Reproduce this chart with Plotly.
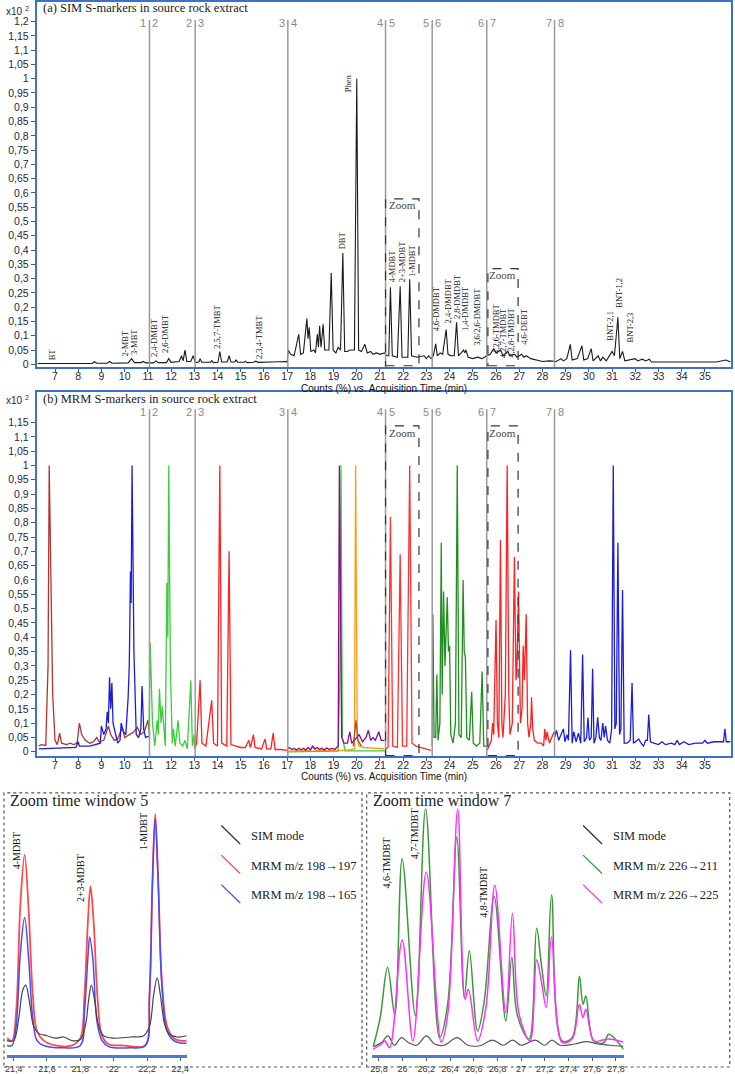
import plotly.graph_objects as go

# ================= DATA =================
time_ticks = list(range(7, 36))
y_ticks_a = [i * 0.05 for i in range(0, 25)]
y_ticks_b = [i * 0.05 for i in range(0, 24)]
boundaries = [11.07, 13.04, 17.03, 21.24, 23.25, 25.6, 28.52]
boundary_left = ['1', '2', '3', '4', '5', '6', '7']
boundary_right = ['2', '3', '4', '5', '6', '7', '8']
zoom_windows = [(21.24, 22.68), (25.65, 26.95)]
zoom_heights_a = [0.579, 0.335]
zoom_height_b = 1.138

# (a) SIM chromatogram (time min, relative counts x10^2)
sim_trace = [
    (6.25, 0.003), (8.6, 0.003), (8.7, 0.009), (8.8, 0.004), (9.25, 0.004), (9.35, 0.01), (9.45, 0.004),
    (10.15, 0.005), (10.3, 0.02), (10.42, 0.006), (10.7, 0.006), (10.8, 0.01), (10.9, 0.005), (11.25, 0.005),
    (11.35, 0.012), (11.45, 0.006), (11.8, 0.006), (11.9, 0.02), (12.0, 0.007), (12.35, 0.01), (12.45, 0.03),
    (12.52, 0.012), (12.6, 0.05), (12.68, 0.01), (12.85, 0.01), (12.95, 0.03), (13.05, 0.006), (13.2, 0.008),
    (13.25, 0.02), (13.32, 0.007), (13.7, 0.007), (13.75, 0.013), (13.82, 0.006), (14.02, 0.007), (14.1, 0.045),
    (14.18, 0.008), (14.42, 0.008), (14.5, 0.03), (14.58, 0.008), (14.75, 0.008), (14.8, 0.016), (14.87, 0.007),
    (15.15, 0.007), (15.2, 0.011), (15.27, 0.006), (15.55, 0.007), (15.65, 0.011), (15.75, 0.007), (16.3, 0.008),
    (16.5, 0.009), (16.7, 0.008), (16.95, 0.01), (17.0, 0.008),
    (17.05, 0.05), (17.15, 0.035), (17.3, 0.03), (17.5, 0.105), (17.58, 0.035), (17.7, 0.04), (17.85, 0.16),
    (17.9, 0.09), (17.95, 0.13), (18.02, 0.045), (18.15, 0.05), (18.22, 0.04), (18.3, 0.105), (18.35, 0.06),
    (18.4, 0.135), (18.46, 0.06), (18.55, 0.14), (18.62, 0.05), (18.8, 0.05), (18.9, 0.32), (18.98, 0.05),
    (19.1, 0.04), (19.2, 0.06), (19.3, 0.05), (19.4, 0.39), (19.48, 0.045), (19.6, 0.045), (19.7, 0.05),
    (19.9, 0.05), (20.0, 1.0), (20.08, 0.05), (20.2, 0.045), (20.35, 0.07), (20.45, 0.04), (20.6, 0.045),
    (20.7, 0.035), (20.85, 0.04), (21.0, 0.035), (21.2, 0.04), (21.3, 0.03),
    (21.38, 0.03), (21.45, 0.27), (21.53, 0.03), (21.75, 0.025), (21.87, 0.273), (21.95, 0.025), (22.2, 0.025),
    (22.28, 0.298), (22.36, 0.03), (22.6, 0.025), (22.9, 0.03), (23.0, 0.02), (23.1, 0.03), (23.2, 0.02),
    (23.3, 0.03), (23.4, 0.072), (23.47, 0.03), (23.6, 0.04), (23.7, 0.035), (23.85, 0.122), (23.93, 0.035),
    (24.05, 0.03), (24.2, 0.03), (24.3, 0.147), (24.38, 0.03), (24.5, 0.04), (24.6, 0.05), (24.65, 0.04),
    (24.7, 0.05), (24.8, 0.025), (25.0, 0.02), (25.2, 0.025), (25.4, 0.02), (25.6, 0.03), (25.75, 0.035),
    (25.9, 0.055), (26.0, 0.04), (26.1, 0.045), (26.2, 0.05), (26.3, 0.03), (26.5, 0.045), (26.6, 0.03),
    (26.8, 0.035), (26.9, 0.025), (27.1, 0.035), (27.2, 0.025), (27.3, 0.03), (27.5, 0.02), (27.7, 0.015),
    (28.0, 0.01), (28.3, 0.012), (28.6, 0.01), (28.8, 0.02), (28.9, 0.012), (29.05, 0.02), (29.2, 0.07),
    (29.28, 0.015), (29.5, 0.02), (29.7, 0.065), (29.78, 0.015), (29.95, 0.02), (30.1, 0.055), (30.18, 0.012),
    (30.4, 0.03), (30.5, 0.012), (30.6, 0.025), (30.75, 0.012), (31.0, 0.045), (31.1, 0.03), (31.25, 0.165),
    (31.33, 0.02), (31.45, 0.045), (31.55, 0.012), (31.8, 0.015), (32.0, 0.02), (32.1, 0.012), (32.3, 0.018),
    (32.45, 0.012), (32.6, 0.018), (32.7, 0.008), (33.5, 0.007), (34.5, 0.008), (35.5, 0.008), (35.9, 0.015),
    (36.1, 0.008),
]

sim_label_names = ['BT', '2-MBT', '3-MBT', '2,4-DMBT', '2,6-DMBT', '2,5,7-TMBT', '2,3,4-TMBT', 'DBT', 'Phen',
                   '4-MDBT', '2+3-MDBT', '1-MDBT', '4,6-DMDBT', '2,4-DMDBT', '2,8-DMDBT', '1,4-DMDBT',
                   '3,6/2,6-DMDBT', '4,2,6-TMDBT', '4,2,7-TMDBT', '4,2,8-TMDBT', '4,6-DEBT',
                   'BNT-2,1', 'BNT-1,2', 'BNT-2,3']
sim_label_times = [6.86, 10.0, 10.4, 11.26, 11.71, 14.0, 15.78, 19.36, 19.6,
                   21.5, 21.93, 22.38, 23.43, 23.92, 24.35, 24.67,
                   25.2, 26.0, 26.28, 26.64, 27.2,
                   30.92, 31.32, 31.78]

# (b) MRM chromatograms per time segment
mrm_seg1_a = [(6.3, 0.02), (6.4, 0.025), (6.6, 0.022), (6.7, 0.3), (6.75, 1.0), (6.82, 0.6), (6.9, 0.2), (7.0, 0.04),
              (7.1, 0.025), (7.2, 0.065), (7.28, 0.03), (7.5, 0.025), (7.65, 0.03), (7.8, 0.025), (7.95, 0.03),
              (8.05, 0.1), (8.15, 0.06), (8.3, 0.04), (8.5, 0.03), (8.65, 0.035), (8.8, 0.05), (8.9, 0.035),
              (9.1, 0.04), (9.3, 0.09), (9.4, 0.06), (9.55, 0.04), (9.7, 0.045), (9.9, 0.085), (10.0, 0.05),
              (10.2, 0.06), (10.4, 0.07), (10.55, 0.085), (10.7, 0.06), (10.85, 0.07), (11.0, 0.11), (11.08, 0.06)]
mrm_seg1_b = [(6.3, 0.01), (7.5, 0.012), (7.9, 0.015), (8.0, 0.035), (8.05, 0.02), (8.5, 0.02), (8.8, 0.025),
              (8.95, 0.03), (9.0, 0.09), (9.1, 0.06), (9.2, 0.08), (9.25, 0.14), (9.3, 0.1), (9.35, 0.26), (9.4, 0.15),
              (9.45, 0.24), (9.5, 0.1), (9.6, 0.07), (9.7, 0.03), (9.8, 0.04), (9.85, 0.1), (9.95, 0.07), (10.05, 0.06),
              (10.15, 0.19), (10.2, 0.3), (10.25, 0.63), (10.28, 0.52), (10.32, 1.0), (10.4, 0.35), (10.5, 0.06),
              (10.6, 0.05), (10.7, 0.08), (10.75, 0.23), (10.82, 0.08), (10.9, 0.05), (11.05, 0.055)]
mrm_seg2 = [(11.05, 0.06), (11.1, 0.38), (11.2, 0.1), (11.3, 0.02), (11.4, 0.11), (11.45, 0.06), (11.5, 0.22),
            (11.57, 0.1), (11.62, 0.16), (11.7, 0.08), (11.75, 0.02), (11.82, 0.59), (11.86, 0.4), (11.9, 1.0),
            (11.97, 0.3), (12.05, 0.03), (12.1, 0.08), (12.18, 0.02), (12.3, 0.11), (12.38, 0.03), (12.5, 0.02),
            (12.6, 0.04), (12.7, 0.01), (12.85, 0.25), (12.92, 0.02), (13.0, 0.06), (13.02, 0.01)]
mrm_seg3 = [(13.02, 0.01), (13.1, 0.03), (13.25, 0.25), (13.33, 0.03), (13.5, 0.02), (13.75, 0.18), (13.83, 0.03),
            (14.0, 0.02), (14.1, 1.0), (14.18, 0.03), (14.4, 0.02), (14.5, 0.7), (14.58, 0.025), (14.8, 0.02),
            (15.0, 0.015), (15.2, 0.015), (15.35, 0.04), (15.42, 0.015), (15.55, 0.06), (15.62, 0.015), (15.9, 0.01),
            (16.05, 0.045), (16.12, 0.01), (16.3, 0.01), (16.4, 0.065), (16.48, 0.008), (16.7, 0.008), (17.0, 0.005)]
mrm_seg4_a = [(17.0, 0.01), (17.1, 0.015), (17.2, 0.008), (17.3, 0.012), (17.4, 0.006), (17.5, 0.012), (17.6, 0.007),
              (17.7, 0.012), (17.8, 0.006), (17.9, 0.015), (18.0, 0.007), (18.1, 0.02), (18.2, 0.01), (18.3, 0.015),
              (18.4, 0.008), (18.5, 0.012), (18.6, 0.006), (18.7, 0.014), (18.8, 0.008), (18.95, 0.012),
              (19.05, 0.008), (19.2, 0.02), (19.25, 1.0), (19.3, 0.5), (19.35, 0.05), (19.45, 0.03), (19.6, 0.03),
              (19.7, 0.07), (19.78, 0.03), (19.9, 0.04), (20.0, 0.05), (20.1, 0.06), (20.25, 0.035), (20.4, 0.05),
              (20.5, 0.075), (20.6, 0.04), (20.7, 0.05), (20.8, 0.04), (20.95, 0.07), (21.05, 0.04), (21.2, 0.04)]
mrm_seg4_b = [(17.0, 0.0), (19.2, 0.002), (19.28, 0.3), (19.32, 1.0), (19.38, 0.05), (19.5, 0.003), (21.2, 0.003)]
mrm_seg4_c = [(17.0, 0.002), (18.0, 0.005), (18.1, 0.02), (18.2, 0.005), (19.5, 0.005), (19.9, 0.01), (19.95, 1.0),
              (20.02, 0.05), (20.1, 0.02), (20.3, 0.015), (21.2, 0.01)]
mrm_seg4_d = [(19.85, 0.02), (19.97, 0.11), (20.05, 0.04), (20.2, 0.02)]
mrm_seg5 = [(21.24, 0.01), (21.35, 0.015), (21.45, 0.82), (21.55, 0.02), (21.75, 0.015), (21.87, 0.69),
            (21.97, 0.02), (22.15, 0.02), (22.28, 1.0), (22.38, 0.03), (22.55, 0.02), (22.8, 0.015), (23.0, 0.01),
            (23.2, 0.005)]
mrm_seg6 = [(23.25, 0.02), (23.28, 0.48), (23.33, 0.05), (23.4, 0.05), (23.45, 0.27), (23.5, 0.04), (23.58, 0.1),
            (23.64, 0.73), (23.68, 0.2), (23.74, 0.56), (23.8, 0.3), (23.85, 0.4), (23.9, 0.54), (23.95, 0.35),
            (24.0, 0.37), (24.05, 0.06), (24.15, 0.03), (24.25, 0.1), (24.33, 1.0), (24.4, 0.06), (24.5, 0.05),
            (24.58, 0.6), (24.63, 0.35), (24.68, 0.33), (24.74, 0.05), (24.85, 0.04), (24.95, 0.21), (25.02, 0.03),
            (25.15, 0.02), (25.3, 0.03), (25.4, 0.28), (25.47, 0.02), (25.6, 0.02)]
mrm_seg7 = [(25.62, 0.005), (25.7, 0.02), (25.8, 0.04), (25.85, 0.1), (25.9, 0.06), (26.0, 0.46), (26.06, 0.1),
            (26.12, 0.05), (26.19, 0.74), (26.25, 0.1), (26.3, 0.05), (26.4, 0.2), (26.48, 1.0), (26.55, 0.2),
            (26.6, 0.06), (26.7, 0.1), (26.79, 0.68), (26.86, 0.25), (26.9, 0.3), (26.97, 0.56), (27.05, 0.1),
            (27.12, 0.15), (27.17, 0.37), (27.22, 0.25), (27.3, 0.48), (27.36, 0.1), (27.42, 0.05), (27.5, 0.1),
            (27.53, 0.19), (27.58, 0.08), (27.65, 0.04), (27.8, 0.03), (27.95, 0.03), (28.05, 0.02), (28.1, 0.08),
            (28.15, 0.04), (28.2, 0.07), (28.3, 0.03), (28.45, 0.06), (28.5, 0.07)]
mrm_seg8 = [(28.52, 0.05), (28.6, 0.075), (28.7, 0.04), (28.8, 0.06), (28.9, 0.08), (28.97, 0.035), (29.05, 0.06),
            (29.12, 0.04), (29.21, 0.355), (29.28, 0.03), (29.35, 0.07), (29.45, 0.035), (29.55, 0.065),
            (29.65, 0.03), (29.73, 0.34), (29.8, 0.035), (29.9, 0.05), (29.96, 0.12), (30.02, 0.04), (30.1, 0.05),
            (30.16, 0.29), (30.22, 0.03), (30.3, 0.05), (30.38, 0.12), (30.45, 0.05), (30.52, 0.04), (30.6, 0.1),
            (30.66, 0.05), (30.72, 0.09), (30.8, 0.04), (30.9, 0.03), (30.98, 0.08), (31.05, 1.0), (31.12, 0.08),
            (31.18, 0.1), (31.25, 0.73), (31.32, 0.06), (31.38, 0.08), (31.45, 0.565), (31.52, 0.03), (31.65, 0.03),
            (31.78, 0.04), (31.86, 0.24), (31.92, 0.03), (32.05, 0.04), (32.15, 0.045), (32.25, 0.03), (32.35, 0.02),
            (32.45, 0.04), (32.52, 0.04), (32.58, 0.13), (32.65, 0.035), (32.8, 0.03), (33.0, 0.025), (33.15, 0.035),
            (33.3, 0.025), (33.55, 0.03), (33.7, 0.025), (33.8, 0.04), (33.9, 0.025), (34.1, 0.035), (34.3, 0.025),
            (34.6, 0.03), (34.9, 0.03), (35.0, 0.04), (35.1, 0.03), (35.4, 0.035), (35.6, 0.035), (35.8, 0.035),
            (35.86, 0.08), (35.92, 0.035), (36.1, 0.035)]

# Zoom time window 5 (relative intensity)
zoom5_ticks = [21.4, 21.6, 21.8, 22.0, 22.2, 22.4]
zoom5_ticktext = ['21,4', '21,6', '21,8', '22', '22,2', '22,4']
zoom5_sim = [(21.36, 6), (21.4, 6), (21.43, 15), (21.455, 27), (21.473, 29), (21.495, 22), (21.52, 12), (21.55, 9),
             (21.6, 8), (21.65, 7), (21.7, 7.5), (21.75, 6), (21.8, 6.5), (21.83, 12), (21.85, 23), (21.866, 29),
             (21.885, 23), (21.91, 12), (21.94, 8), (22.0, 7), (22.1, 7.5), (22.18, 8), (22.215, 12), (22.24, 25),
             (22.261, 32), (22.28, 25), (22.305, 13), (22.33, 9), (22.38, 7.5), (22.438, 8)]
zoom5_mrm197 = [(21.36, 7), (21.39, 6), (21.415, 18), (21.44, 62), (21.466, 83), (21.49, 60), (21.515, 25),
                (21.54, 10), (21.58, 6), (21.65, 4), (21.75, 4), (21.8, 7), (21.825, 25), (21.845, 55), (21.861, 70),
                (21.88, 55), (21.905, 22), (21.93, 8), (21.97, 4.5), (22.05, 4), (22.12, 3.5), (22.19, 4),
                (22.215, 25), (22.232, 70), (22.249, 100), (22.266, 75), (22.29, 30), (22.32, 12), (22.36, 7),
                (22.4, 6), (22.438, 6)]
zoom5_mrm165 = [(21.36, 4), (21.39, 4), (21.415, 12), (21.44, 42), (21.466, 57), (21.49, 40), (21.515, 15),
                (21.54, 6), (21.58, 4), (21.7, 3), (21.8, 4), (21.825, 18), (21.845, 40), (21.856, 49), (21.875, 40),
                (21.9, 14), (21.93, 6), (21.97, 3.5), (22.1, 3), (22.19, 4), (22.215, 25), (22.232, 70), (22.249, 98),
                (22.266, 73), (22.29, 28), (22.32, 10), (22.36, 6), (22.4, 5), (22.438, 5)]
zoom5_labels = ['4-MDBT', '2+3-MDBT', '1-MDBT']
zoom5_legend = ['SIM mode', 'MRM m/z 198→197', 'MRM m/z 198→165']

# Zoom time window 7 (relative intensity)
zoom7_ticks = [25.8, 26.0, 26.2, 26.4, 26.6, 26.8, 27.0, 27.2, 27.4, 27.6, 27.8]
zoom7_ticktext = ['25,8', '26', '26,2', '26,4', '26,6', '26,8', '27', '27,2', '27,4', '27,6', '27,8']
zoom7_sim = [(25.752, 3.4), (25.82, 5), (25.876, 7.8), (25.93, 4), (25.99, 7.1), (26.05, 5), (26.12, 4),
             (26.2, 7.8), (26.27, 4.5), (26.35, 4), (26.46, 7.1), (26.55, 4), (26.65, 3.8), (26.76, 6.1),
             (26.85, 4), (26.93, 6.1), (27.0, 4), (27.12, 6.1), (27.2, 4), (27.26, 6.1), (27.33, 4), (27.45, 4.5),
             (27.55, 5.5), (27.65, 4.5), (27.75, 4), (27.865, 3.5)]
zoom7_mrm211 = [(25.752, 3.4), (25.81, 15), (25.873, 35.7), (25.934, 16.3), (25.996, 79.8), (26.108, 15.9),
                (26.194, 100), (26.312, 7.1), (26.38, 20.6), (26.457, 88.5), (26.521, 23.5), (26.563, 42.4),
                (26.633, 9.8), (26.689, 22), (26.773, 64.3), (26.871, 13.9), (26.922, 39.7), (26.969, 16),
                (27.067, 6.5), (27.131, 51.5), (27.173, 36), (27.212, 24), (27.257, 65), (27.346, 5.8), (27.43, 7),
                (27.492, 32), (27.522, 20.6), (27.547, 24), (27.612, 5.8), (27.7, 5), (27.738, 8.5), (27.865, 2.4)]
zoom7_mrm225 = [(25.752, 2.4), (25.82, 4.5), (25.85, 5.8), (25.89, 3), (25.996, 46.8), (26.087, 5.8), (26.2, 74.4),
                (26.326, 5.2), (26.38, 16.3), (26.465, 100), (26.527, 22.7), (26.555, 26.7), (26.633, 5.8),
                (26.703, 19.3), (26.778, 69), (26.871, 17.3), (26.927, 57.6), (26.983, 16.6), (27.075, 5.8),
                (27.131, 38.7), (27.173, 29.3), (27.212, 19.3), (27.257, 48), (27.346, 5.2), (27.43, 6.5),
                (27.492, 20.6), (27.522, 15.2), (27.547, 18.6), (27.612, 5.8), (27.68, 6), (27.738, 6.5),
                (27.865, 5.2)]
zoom7_labels = ['4,6-TMDBT', '4,7-TMDBT', '4,8-TMDBT']
zoom7_legend = ['SIM mode', 'MRM m/z 226→211', 'MRM m/z 226→225']

# ================= FIGURE =================
W, H = 735, 1074
def fx(p):
    return p / W
def fy(p):
    return 1 - p / H

SERIF = 'Liberation Serif'
SANS = 'Liberation Sans'
BLUE_FRAME = '#3d6fcf'
GRAY = '#9a9a9a'

fig = go.Figure()

def add(points, xa, ya, color, width=1.1, shape='linear'):
    xs, ys = zip(*points)
    fig.add_trace(go.Scatter(x=list(xs), y=list(ys), mode='lines', xaxis=xa, yaxis=ya,
                             line=dict(color=color, width=width, shape=shape),
                             hoverinfo='skip', showlegend=False))

# panel (a)
add(sim_trace, 'x', 'y', '#1a1a1a', 1.1)
# panel (b)
add(mrm_seg1_a, 'x2', 'y2', '#b03434', 1.3)
add(mrm_seg1_b, 'x2', 'y2', '#1c1cd8', 1.3)
add(mrm_seg2, 'x2', 'y2', '#3ccc3c', 1.3)
add(mrm_seg3, 'x2', 'y2', '#ff2020', 1.3)
add(mrm_seg4_b, 'x2', 'y2', '#3ccc3c', 1.3)
add(mrm_seg4_c, 'x2', 'y2', '#ff9a10', 1.3)
add(mrm_seg4_a, 'x2', 'y2', '#85108a', 1.3)
add(mrm_seg4_d, 'x2', 'y2', '#a0522d', 1.3)
add(mrm_seg5, 'x2', 'y2', '#ff3030', 1.3)
add(mrm_seg6, 'x2', 'y2', '#1f8f1f', 1.3)
add(mrm_seg7, 'x2', 'y2', '#ff2020', 1.3)
add(mrm_seg8, 'x2', 'y2', '#1c1cd8', 1.3)
# zoom window 5
add(zoom5_mrm197, 'x3', 'y3', '#ff4a4a', 1.8, 'spline')
add(zoom5_mrm165, 'x3', 'y3', '#4a4aff', 1.5, 'spline')
add(zoom5_sim, 'x3', 'y3', '#444444', 1.2, 'spline')
# zoom window 7
add(zoom7_sim, 'x4', 'y4', '#555555', 1.2, 'spline')
add(zoom7_mrm211, 'x4', 'y4', '#3a9a3a', 1.5, 'spline')
add(zoom7_mrm225, 'x4', 'y4', '#ff30ff', 1.5, 'spline')

def fmt(v):
    s = ('%.2f' % v).rstrip('0').rstrip('.')
    return s.replace('.', ',')

tickfont = dict(family=SANS, size=10.5, color='#1f1f3a')
main_x = dict(domain=[fx(35), fx(732.7)], range=[6.216, 36.11], tickvals=time_ticks,
              ticktext=[str(t) for t in time_ticks], ticks='outside', ticklen=3, ticklabelstandoff=-5,
              tickcolor='#555', showline=True, linecolor=BLUE_FRAME, linewidth=2, mirror=True,
              showgrid=False, zeroline=False, tickfont=tickfont)
main_y = dict(ticks='outside', ticklen=4, tickcolor='#555', showline=True, linecolor=BLUE_FRAME,
              linewidth=2, mirror=True, showgrid=False, zeroline=False, tickfont=tickfont)

zoom_x = dict(ticks='outside', ticklen=3, tickcolor='#555', showline=True, linecolor='#4a7fd0',
              linewidth=3, showgrid=False, zeroline=False, tickfont=dict(family=SANS, size=9, color='#333'))

fig.update_layout(
    width=W, height=H, margin=dict(l=0, r=0, t=0, b=0),
    paper_bgcolor='white', plot_bgcolor='white', showlegend=False,
    xaxis=dict(main_x, anchor='y'),
    yaxis=dict(main_y, anchor='x', domain=[fy(368.5), fy(1)], range=[-0.0097, 1.2685],
               tickvals=y_ticks_a, ticktext=[fmt(v) for v in y_ticks_a]),
    xaxis2=dict(main_x, anchor='y2'),
    yaxis2=dict(main_y, anchor='x2', domain=[fy(760), fy(393.3)], range=[-0.0149, 1.2575],
                tickvals=y_ticks_b, ticktext=[fmt(v) for v in y_ticks_b]),
    xaxis3=dict(zoom_x, anchor='y3', domain=[fx(5), fx(185.7)], range=[21.36, 22.438],
                tickvals=zoom5_ticks, ticktext=zoom5_ticktext),
    yaxis3=dict(anchor='x3', domain=[fy(1061), fy(810)], range=[0, 103.4], visible=False),
    xaxis4=dict(zoom_x, anchor='y4', domain=[fx(372.3), fx(625)], range=[25.744, 27.865],
                tickvals=zoom7_ticks, ticktext=zoom7_ticktext),
    yaxis4=dict(anchor='x4', domain=[fy(1061), fy(810)], range=[0, 101.3], visible=False),
)

shapes = []
ann = []

# segment boundary lines and numbers
for (xr, ybot, ytop, ylab) in [('x', 368.5, 19, 22), ('x2', 760, 411, 414)]:
    for b, l, r in zip(boundaries, boundary_left, boundary_right):
        shapes.append(dict(type='line', xref=xr, yref='paper', x0=b, x1=b, y0=fy(ybot), y1=fy(ytop),
                           line=dict(color=GRAY, width=1.5)))
        ann.append(dict(x=b, y=fy(ylab), xref=xr, yref='paper', text=l, showarrow=False, xanchor='right',
                        xshift=-1, yanchor='middle', font=dict(family=SANS, size=11, color='#8a8a8a')))
        ann.append(dict(x=b, y=fy(ylab), xref=xr, yref='paper', text=r, showarrow=False, xanchor='left',
                        xshift=1, yanchor='middle', font=dict(family=SANS, size=11, color='#8a8a8a')))

# zoom boxes
for (x0, x1), top, lab in zip(zoom_windows, zoom_heights_a, [0.557, 0.313]):
    shapes.append(dict(type='rect', xref='x', yref='y', x0=x0, x1=x1, y0=-0.005, y1=top,
                       line=dict(color='#333', width=1.2, dash='dash')))
    ann.append(dict(x=(x0 + x1) / 2, y=lab, xref='x', yref='y', text='Zoom', showarrow=False,
                    xanchor='center', yanchor='middle', font=dict(family=SERIF, size=11, color='#444')))
    shapes.append(dict(type='rect', xref='x2', yref='y2', x0=x0, x1=x1, y0=-0.013, y1=zoom_height_b,
                       line=dict(color='#333', width=1.2, dash='dash')))
    ann.append(dict(x=(x0 + x1) / 2, y=1.115, xref='x2', yref='y2', text='Zoom', showarrow=False,
                    xanchor='center', yanchor='middle', font=dict(family=SERIF, size=11, color='#444')))

# peak labels in (a)
label_levels = [0.034, 0.072, 0.078, 0.095, 0.107, 0.133, 0.095, 0.434, 0.986,
                0.342, 0.359, 0.362, 0.194, 0.223, 0.238, 0.194,
                0.168, 0.124, 0.107, 0.110, 0.131,
                0.136, 0.249, 0.130]
for name, t, lv in zip(sim_label_names, sim_label_times, label_levels):
    ann.append(dict(x=t, y=lv, xref='x', yref='y', text=name, textangle=-90, showarrow=False,
                    xanchor='center', yanchor='middle', font=dict(family=SERIF, size=8.5, color='#111')))

# panel titles, multipliers, axis titles
for title, ty, mult_y, at_y in [('(a) SIM S-markers in source rock extract', 7, 10, 390),
                                ('(b) MRM S-markers in source rock extract', 401, 402, 781)]:
    ann.append(dict(x=fx(39), y=fy(ty), xref='paper', yref='paper', text=title, showarrow=False,
                    xanchor='left', yanchor='middle', font=dict(family=SERIF, size=12.5, color='#222')))
    ann.append(dict(x=fx(2), y=fy(mult_y), xref='paper', yref='paper', text='x10 <sup>2</sup>',
                    showarrow=False, xanchor='left', yanchor='middle',
                    font=dict(family=SANS, size=10, color='#1f1f3a')))
    ann.append(dict(x=fx(384), y=fy(at_y), xref='paper', yref='paper',
                    text='Counts (%) vs. Acquisition Time (min)', showarrow=False, xanchor='center',
                    yanchor='middle', font=dict(family=SANS, size=10, color='#111')))

# bottom zoom panels: dashed frames, titles, peak labels, legends
for x0, x1, ttl in [(2, 362, 'Zoom time window 5'), (366.7, 731.7, 'Zoom time window 7')]:
    shapes.append(dict(type='rect', xref='paper', yref='paper', x0=fx(x0), x1=fx(x1), y0=fy(1073),
                       y1=fy(797), line=dict(color='#555', width=1.2, dash='dot')))
    ann.append(dict(x=fx(x0 + 4), y=fy(805), xref='paper', yref='paper', text=ttl, showarrow=False,
                    xanchor='left', yanchor='middle', font=dict(family=SERIF, size=16, color='#222')))

for name, lx, ly in zip(zoom5_labels, [15, 78.3, 142.3], [855, 883, 836]):
    ann.append(dict(x=fx(lx), y=fy(ly), xref='paper', yref='paper', text=name, textangle=-90,
                    showarrow=False, xanchor='center', yanchor='middle',
                    font=dict(family=SERIF, size=10, color='#111')))
for name, lx, ly in zip(zoom7_labels, [386.7, 415, 483.3], [867.5, 838, 897]):
    ann.append(dict(x=fx(lx), y=fy(ly), xref='paper', yref='paper', text=name, textangle=-90,
                    showarrow=False, xanchor='center', yanchor='middle',
                    font=dict(family=SERIF, size=10, color='#111')))

for names, colors, lx0, tx in [(zoom5_legend, ['#333333', '#ff4a4a', '#4a4aff'], 220.5, 248.3),
                               (zoom7_legend, ['#333333', '#3a9a3a', '#ff30ff'], 584.3, 612.3)]:
    for i, (nm, c) in enumerate(zip(names, colors)):
        y0 = 830 + i * 29.7
        shapes.append(dict(type='line', xref='paper', yref='paper', x0=fx(lx0), x1=fx(lx0 + 19),
                           y0=fy(y0), y1=fy(y0 + 18.5), line=dict(color=c, width=1.3)))
        ann.append(dict(x=fx(tx), y=fy(y0 + 10.5), xref='paper', yref='paper', text=nm, showarrow=False,
                        xanchor='left', yanchor='middle', font=dict(family=SERIF, size=12.5, color='#222')))

fig.update_layout(shapes=shapes, annotations=ann)
fig.write_html('out.html', config={'displayModeBar': False},
               post_script="document.body.style.margin='0';document.body.style.padding='0';")
